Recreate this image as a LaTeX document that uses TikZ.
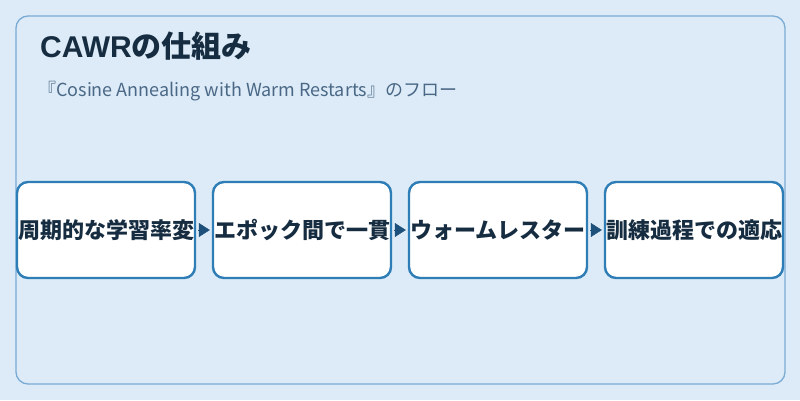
\documentclass[tikz,border=0pt]{standalone}
\usepackage{fontspec}
\setmainfont{Noto Sans CJK JP}
\newfontfamily\latinhead{Liberation Sans}
\usetikzlibrary{arrows.meta,positioning}
\definecolor{bgblue}{RGB}{220,235,247}
\definecolor{panelline}{RGB}{122,172,212}
\definecolor{boxline}{RGB}{46,125,182}
\definecolor{tipblue}{RGB}{30,80,124}
\definecolor{titleink}{RGB}{22,44,64}
\definecolor{subink}{RGB}{74,104,134}
\tikzset{
  step box/.style={draw=boxline, line width=2.4pt, fill=white, rounded corners=11pt,
    minimum width=178pt, minimum height=96pt, inner sep=0pt,
    font=\fontsize{22}{25}\selectfont\bfseries, text=titleink},
  flow/.style={-{Triangle[length=11pt,width=14pt]}, tipblue, shorten <=2pt, shorten >=2pt}
}
\begin{document}
\begin{tikzpicture}[x=1pt,y=-1pt]
%background and outer panel
\fill[bgblue] (0,0) rectangle (800,400);
\useasboundingbox (0,0) rectangle (800,400);
\draw[panelline, line width=1.3pt, rounded corners=12pt] (16,16) rectangle (785,384);
%title and subtitle
\node[anchor=base west, inner sep=0pt, text=titleink, font=\fontsize{30}{33}\selectfont\bfseries] (title) at (40,57) {{\latinhead CAWR}の仕組み};
\node[anchor=base west, inner sep=0pt, text=subink, font=\fontsize{18}{21}\selectfont] (sub) at (38,96) {『Cosine Annealing with Warm Restarts』のフロー};
%the four steps
\node[step box] (cyc) at (106,230) {周期的な学習率変};
\node[step box] (epo) at (302,230) {エポック間で一貫};
\node[step box] (warm) at (498,230) {ウォームレスター};
\node[step box] (adapt) at (694,230) {訓練過程での適応};
%arrows between steps
\draw[flow] (cyc.east) -- (epo.west);
\draw[flow] (epo.east) -- (warm.west);
\draw[flow] (warm.east) -- (adapt.west);
\end{tikzpicture}
\end{document}
